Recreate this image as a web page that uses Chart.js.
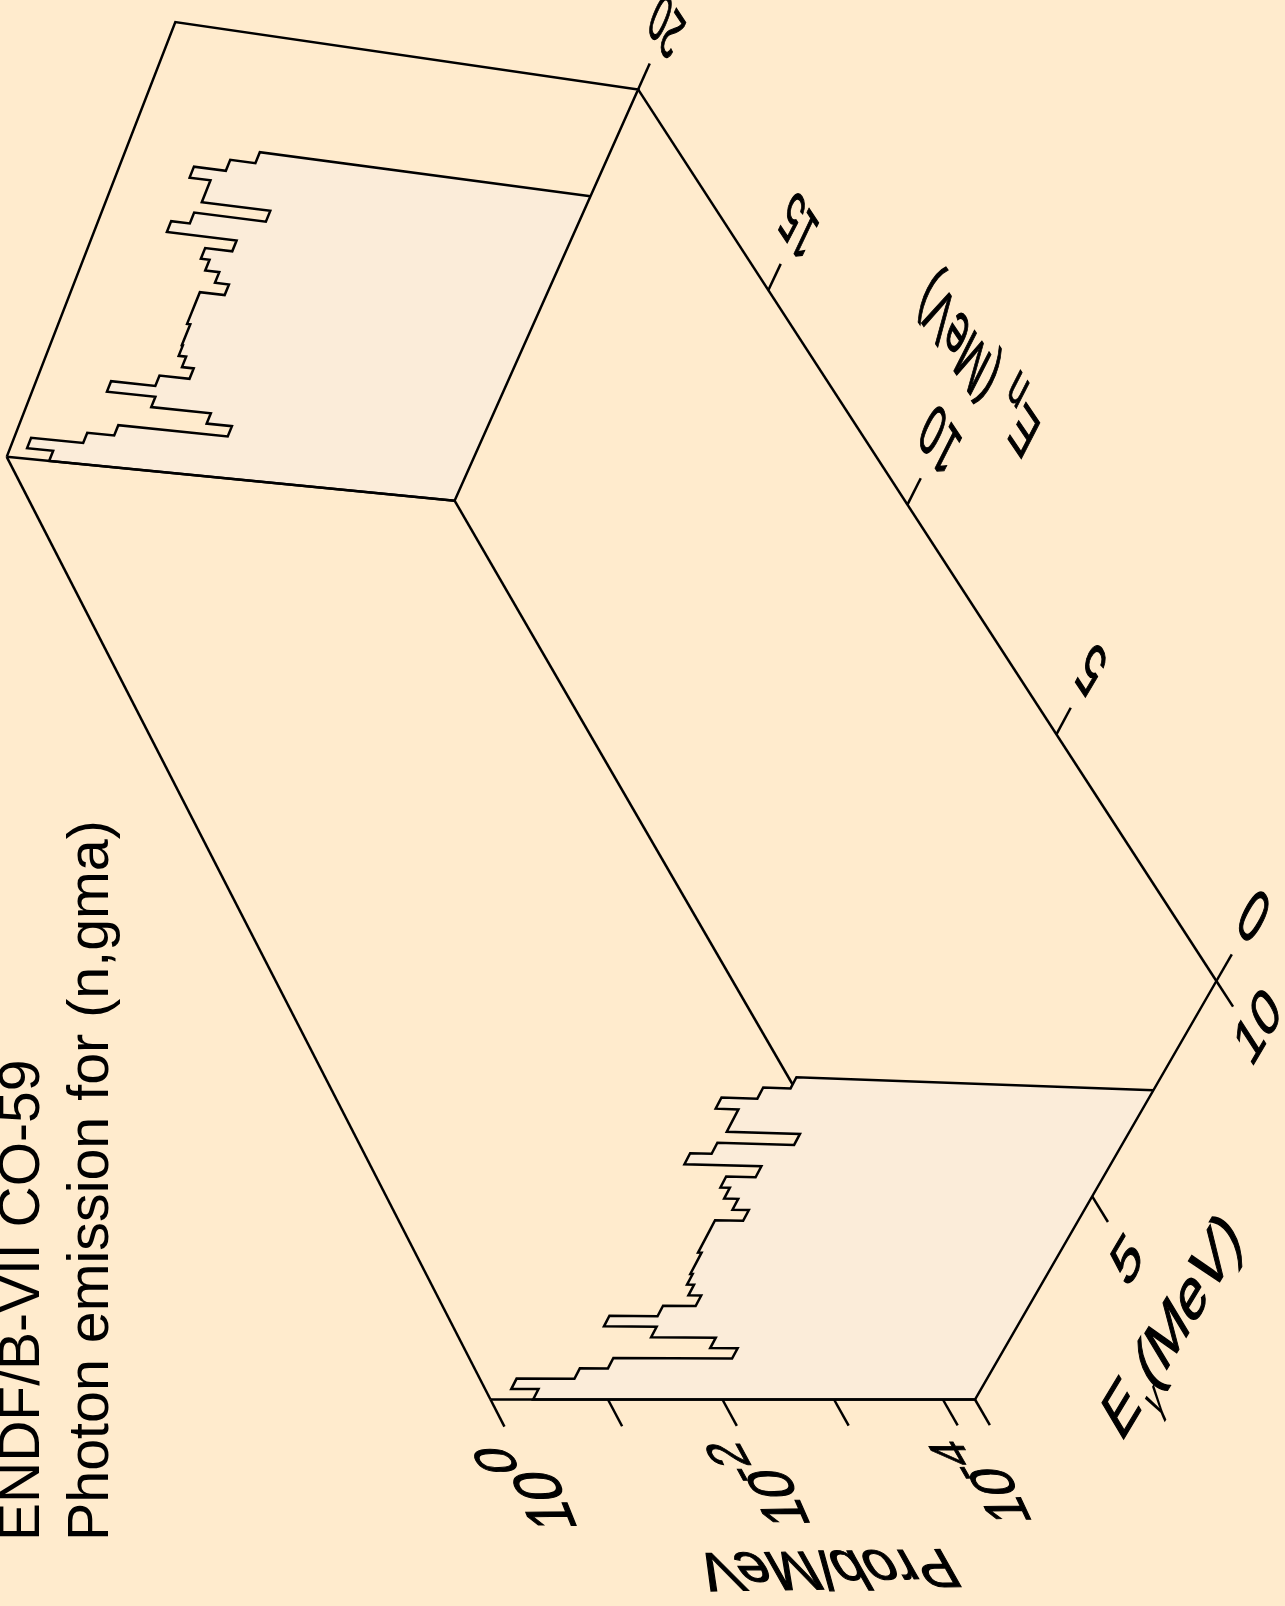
<!DOCTYPE html>
<html>
<head>
<meta charset="utf-8">
<style>
  html, body { margin: 0; padding: 0; background: #FFEBCD; }
  canvas { display: block; }
</style>
<script src="https://cdn.jsdelivr.net/npm/chart.js@4"></script>
</head>
<body>
<canvas id="chart" width="1285" height="1606"></canvas>
<script>
// photon energy bin edges, MeV
const gammaEdges = [0, 0.25, 0.5, 0.75, 1, 1.25, 1.5, 1.75, 2, 2.25, 2.5, 2.75, 3, 3.25, 3.5,
  3.75, 4, 4.25, 4.5, 4.75, 5, 5.25, 5.5, 5.75, 6, 6.25, 6.5, 6.75, 7, 7.25, 7.5];
// log10(Prob/MeV) per bin
const logProbEn0 = [-0.36, -0.13, -0.62, -0.86, -1.89, -1.65, -1.09, -0.64, -1.05, -1.33,
  -1.22, -1.16, -1.14, -1.14, -1.11, -1.11, -1.11, -1.35, -1.21, -1.09,
  -1.01, -1.26, -0.61, -0.79, -1.44, -0.82, -0.82, -0.63, -0.93, -1.16];
const logProbEn20 = [-0.39, -0.15, -0.63, -0.88, -1.91, -1.67, -1.11, -0.66, -1.07, -1.35,
  -1.24, -1.17, -1.16, -1.16, -1.13, -1.13, -1.13, -1.36, -1.23, -1.10,
  -1.02, -1.27, -0.63, -0.80, -1.46, -0.83, -0.83, -0.64, -0.93, -1.16];

const enRange = [0, 20];
const gammaRange = [0, 10];
const logProbRange = [-4.3, 0];

const enTicks = [0, 5, 10, 15, 20];
const gammaTicks = [5, 10];
const logProbTicks = [0, -1, -2, -3, -4, -4.3];
const logProbLabels = [0, -2, -4];

const titleLines = ['ENDF/B-VII CO-59', 'Photon emission for (n,gma)'];

const BG = '#FFEBCD';
const PANEL = '#FBECD9';
const FONT = '"Liberation Sans", Arial, sans-serif';

// box camera: corners of the box in pixels plus foreshortening weights
const cam = {
  O: [975, 1399.5], U: [1216.4, 981], V: [490.5, 1399.5], W: [454.6, 500.7],
  a: 0.944, b: 0.947, c: 1.139
};

function project(en, gamma, logP) {
  const u = (gamma - gammaRange[0]) / (gammaRange[1] - gammaRange[0]);
  const v = (logP - logProbRange[0]) / (logProbRange[1] - logProbRange[0]);
  const w = (en - enRange[0]) / (enRange[1] - enRange[0]);
  const d = 1 + u * (cam.a - 1) + v * (cam.b - 1) + w * (cam.c - 1);
  const at = i => (cam.O[i]
    + u * (cam.a * cam.U[i] - cam.O[i])
    + v * (cam.b * cam.V[i] - cam.O[i])
    + w * (cam.c * cam.W[i] - cam.O[i])) / d;
  return { x: at(0), y: at(1) };
}

const floorP = logProbRange[0];
const topP = logProbRange[1];
const enMax = enRange[1];
const gMax = gammaRange[1];

function spectrum(en, logProb) {
  const last = gammaEdges[gammaEdges.length - 1];
  const pts = [project(en, last, floorP)];
  for (let i = logProb.length - 1; i >= 0; i--) {
    pts.push(project(en, gammaEdges[i + 1], logProb[i]));
    pts.push(project(en, gammaEdges[i], logProb[i]));
  }
  pts.push(project(en, 0, floorP));
  return pts;
}

function line(pts, order) {
  return { data: pts, order: order, showLine: true, borderColor: '#000', borderWidth: 2.5,
    pointRadius: 0, tension: 0, clip: false, borderJoinStyle: 'miter', borderCapStyle: 'butt' };
}

const datasets = [
  // back frame goes over the back spectrum fill
  line([project(enMax, 0, topP), project(enMax, gMax, topP), project(enMax, gMax, floorP),
    project(enMax, 0, floorP), project(enMax, 0, topP)], 4),
  // edge that runs behind the front panel
  line([project(enMax, 0, floorP), project(0, 0, floorP)], 6),
  // top edge and En axis
  line([project(enMax, 0, topP), project(0, 0, topP)], 2),
  line([project(enMax, gMax, floorP), project(0, gMax, floorP)], 2),
  // spectra
  Object.assign(line(spectrum(enMax, logProbEn20), 5), { polygonFill: PANEL }),
  Object.assign(line(spectrum(0, logProbEn0), 3), { polygonFill: PANEL }),
  // front axes
  line([project(0, gMax, floorP), project(0, 0, floorP), project(0, 0, topP)], 1)
];

enTicks.forEach(t => datasets.push(line([project(t, gMax, floorP), project(t, gMax * 1.06, floorP)], 1)));
gammaTicks.forEach(t => datasets.push(line([project(0, t, floorP), project(-0.5, t, floorP)], 1)));
logProbTicks.forEach(t => datasets.push(line([project(0, 0, t), project(-0.5, 0, t)], 1)));

// text lying in a box plane: along/up are data-space steps for one em
function planeText(chart, text, origin, along, up, weight = 2) {
  const { ctx, scales } = chart;
  const px = p => ({ x: scales.x.getPixelForValue(p.x), y: scales.y.getPixelForValue(p.y) });
  const p0 = px(project(origin[0], origin[1], origin[2]));
  const pA = px(project(origin[0] + along[0], origin[1] + along[1], origin[2] + along[2]));
  const pU = px(project(origin[0] + up[0], origin[1] + up[1], origin[2] + up[2]));
  ctx.save();
  ctx.setTransform((pA.x - p0.x) / 100, (pA.y - p0.y) / 100, -(pU.x - p0.x) / 100, -(pU.y - p0.y) / 100, p0.x, p0.y);
  ctx.font = '100px ' + FONT;
  ctx.fillStyle = '#000';
  ctx.strokeStyle = '#000';
  ctx.lineWidth = weight;
  ctx.textAlign = 'left';
  ctx.textBaseline = 'alphabetic';
  ctx.fillText(text, 0, 0);
  if (weight > 0) ctx.strokeText(text, 0, 0);
  ctx.restore();
}

const labelsPlugin = {
  id: 'labels',
  beforeDatasetDraw(chart, args) {
    const ds = chart.data.datasets[args.index];
    if (!ds.polygonFill) return;
    const { ctx } = chart;
    ctx.save();
    ctx.beginPath();
    args.meta.data.forEach((p, i) => i ? ctx.lineTo(p.x, p.y) : ctx.moveTo(p.x, p.y));
    ctx.closePath();
    ctx.fillStyle = ds.polygonFill;
    ctx.fill();
    ctx.restore();
  },
  afterDraw(chart) {
    const { ctx } = chart;
    // titles
    ctx.save();
    ctx.fillStyle = '#000';
    ctx.textBaseline = 'alphabetic';
    ctx.translate(39, 1541);
    ctx.rotate(-Math.PI / 2);
    ctx.font = '57px ' + FONT;
    ctx.fillText(titleLines[0], 0, 0);
    ctx.font = '57.4px ' + FONT;
    ctx.fillText(titleLines[1], 0, 68.5);
    ctx.restore();

    // En tick labels
    enTicks.forEach(t => {
      const s = String(t);
      const off = s.length === 1 ? 0.23 : 0.46;
      planeText(chart, s, [t - off, 11.9, floorP], [0.83, 0, 0], [0, -1.3, 0]);
    });
    // Egamma tick labels
    planeText(chart, String(gammaTicks[0]), [-1.45, 4.55, floorP], [0, 1.3, 0], [0.88, 0, 0]);
    planeText(chart, String(gammaTicks[1]), [-1.35, 9.6, floorP], [0, 1.1, 0], [0.88, 0, 0]);
    // Prob tick labels
    logProbLabels.forEach(t => {
      planeText(chart, '10', [-2.37, 0, t - 0.17], [0.95, 0, -0.05], [0, 0, 0.54]);
      planeText(chart, String(t), [t === 0 ? -1.35 : -1.55, 0, t + 0.06], [0.85, 0, 0], [0, 0, 0.46]);
    });
    // axis titles
    planeText(chart, 'Prob/MeV', [-2.83, 0, -3.24], [0, 0, 0.515], [-1.0, 0, 0]);
    planeText(chart, 'E', [-2.8, 2.55, floorP], [0, 1.3, 0], [1.0, 0, 0]);
    planeText(chart, '\u03B3', [-3.13, 3.58, floorP], [0, 0.72, 0], [0.72, 0, 0], 0);
    planeText(chart, '(MeV)', [-2.82, 3.82, floorP], [0, 1.33, 0], [1.0, 0, 0]);
    planeText(chart, 'E', [8.2, 13.55, floorP], [0.85, 0, 0], [0, -1.15, 0]);
    planeText(chart, 'n', [8.8, 13.85, floorP], [0.7, 0, 0], [0, -1.05, 0]);
    planeText(chart, '(MeV)', [9.5, 13.5, floorP], [0.83, 0, 0], [0, -1.3, 0]);
  }
};

new Chart(document.getElementById('chart').getContext('2d'), {
  type: 'scatter',
  data: { datasets: datasets },
  options: {
    responsive: false,
    animation: false,
    layout: { padding: 0 },
    plugins: { legend: { display: false }, tooltip: { enabled: false } },
    scales: {
      x: { type: 'linear', display: false, min: 0, max: 1285 },
      y: { type: 'linear', display: false, min: 0, max: 1606, reverse: true }
    }
  },
  plugins: [labelsPlugin, {
    id: 'bg',
    beforeDraw(chart) {
      chart.ctx.save();
      chart.ctx.fillStyle = BG;
      chart.ctx.fillRect(0, 0, chart.width, chart.height);
      chart.ctx.restore();
    }
  }]
});
</script>
</body>
</html>
